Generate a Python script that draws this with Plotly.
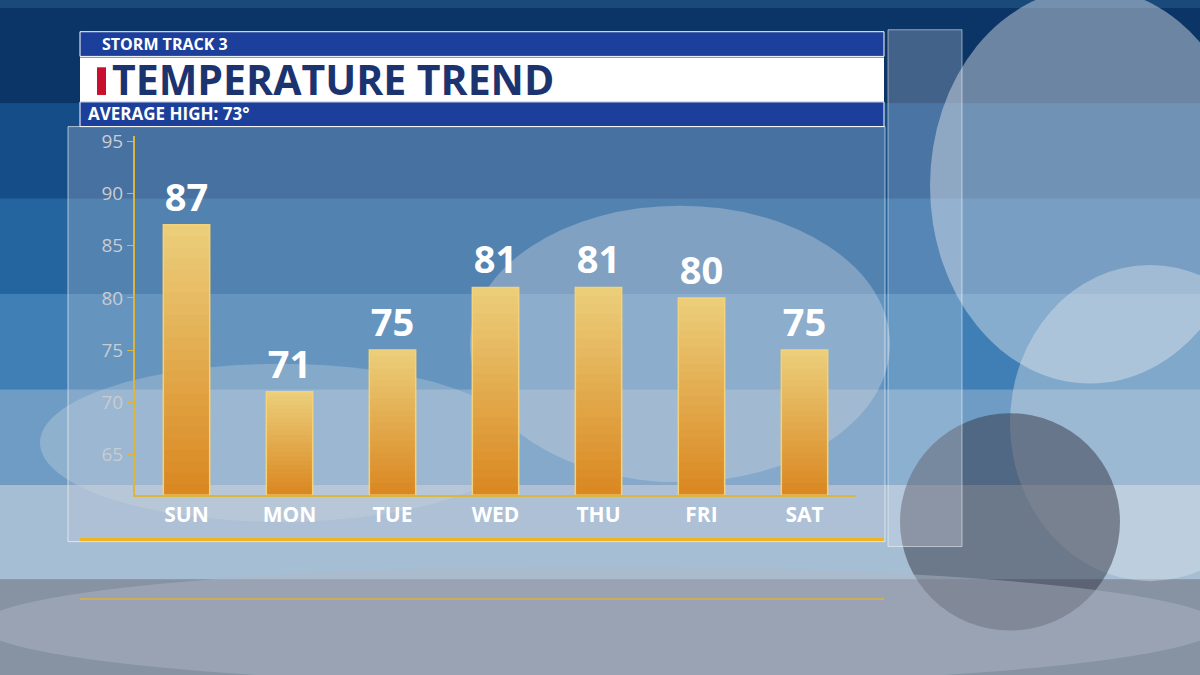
import plotly.graph_objects as go

days = ["SUN", "MON", "TUE", "WED", "THU", "FRI", "SAT"]
highs = [87, 71, 75, 81, 81, 80, 75]
yticks = [65, 70, 75, 80, 85, 90, 95]
AXIS_MIN = 61.1

def px(x): return x / 1200
def py(y): return 1 - y / 675

fig = go.Figure()
N = 24
top_c = (236, 206, 122)
bot_c = (218, 136, 34)
for k in range(N):
    t = k / (N - 1)
    c = tuple(int(bot_c[i] + (top_c[i] - bot_c[i]) * t) for i in range(3))
    h = [(v - AXIS_MIN) / N for v in highs]
    fig.add_trace(go.Bar(x=days, y=[hh * (1.6 if k < N - 1 else 1) for hh in h],
                         base=[AXIS_MIN + (v - AXIS_MIN) * k / N for v in highs],
                         width=0.45, marker=dict(color="rgb(%d,%d,%d)" % c, line_width=0),
                         hoverinfo="skip"))
fig.add_trace(go.Bar(x=days, y=[v - AXIS_MIN for v in highs], base=AXIS_MIN, width=0.45,
                     marker=dict(color="rgba(0,0,0,0)", line=dict(color="#F3D27A", width=1.5)),
                     text=[str(v) for v in highs], textposition="outside",
                     textfont=dict(family="Open Sans", size=38, color="white", weight="bold"),
                     cliponaxis=False))

shapes = []
sky = ["#0b3566", "#154d88", "#2465a0", "#3f7fb5", "#6e9cc4", "#a6bed4", "#8793a3"]
for i, c in enumerate(sky):
    shapes.append(dict(type="rect", xref="paper", yref="paper", x0=0, x1=1,
                       y0=py(675 * (i + 1) / 7), y1=py(675 * i / 7),
                       fillcolor=c, line_width=0, layer="below"))
for (cx, cy, rx, ry, col) in [(1090, 180, 160, 200, "rgba(225,230,238,0.45)"),
                              (1150, 420, 140, 160, "rgba(225,230,238,0.4)"),
                              (680, 340, 210, 140, "rgba(225,228,232,0.35)"),
                              (280, 440, 240, 80, "rgba(220,225,230,0.3)"),
                              (1010, 520, 110, 110, "rgba(50,52,65,0.5)"),
                              (600, 625, 620, 60, "rgba(175,185,200,0.45)")]:
    shapes.append(dict(type="circle", xref="paper", yref="paper",
                       x0=px(cx - rx), x1=px(cx + rx), y0=py(cy + ry), y1=py(cy - ry),
                       fillcolor=col, line_width=0, layer="below"))
shapes.append(dict(type="rect", xref="paper", yref="paper", x0=px(68), x1=px(885),
                   y0=py(540), y1=py(120), fillcolor="rgba(190,200,215,0.3)",
                   line=dict(color="rgba(255,255,255,0.6)", width=1), layer="below"))
shapes.append(dict(type="rect", xref="paper", yref="paper", x0=px(888), x1=px(962),
                   y0=py(545), y1=py(22), fillcolor="rgba(230,235,245,0.25)",
                   line=dict(color="rgba(255,255,255,0.5)", width=1), layer="below"))
shapes.append(dict(type="rect", xref="paper", yref="paper", x0=px(80), x1=px(884),
                   y0=py(49), y1=py(24), fillcolor="#1b3f9a", line=dict(color="white", width=1)))
shapes.append(dict(type="rect", xref="paper", yref="paper", x0=px(80), x1=px(884),
                   y0=py(95), y1=py(50), fillcolor="white", line_width=0))
shapes.append(dict(type="rect", xref="paper", yref="paper", x0=px(97), x1=px(106),
                   y0=py(88), y1=py(60), fillcolor="#c8102e", line_width=0))
shapes.append(dict(type="rect", xref="paper", yref="paper", x0=px(80), x1=px(884),
                   y0=py(120), y1=py(95), fillcolor="#1b3f9a", line=dict(color="white", width=1)))
shapes.append(dict(type="line", xref="paper", yref="paper", x0=px(80), x1=px(884),
                   y0=py(538), y1=py(538), line=dict(color="#f2b320", width=3)))
shapes.append(dict(type="line", xref="paper", yref="paper", x0=px(80), x1=px(884),
                   y0=py(598), y1=py(598), line=dict(color="rgba(242,179,32,0.6)", width=2)))

def a(x, y, text, size, color, weight="bold"):
    return dict(x=px(x), y=py(y), text=text, showarrow=False, xanchor="left", yanchor="middle",
                font=dict(family="Open Sans", size=size, color=color, weight=weight),
                xref="paper", yref="paper")

ann = [a(100, 36, "STORM TRACK 3", 16, "white"),
       a(110, 72, "TEMPERATURE TREND", 41, "#1b3470"),
       a(86, 107, "AVERAGE HIGH: 73°", 17, "white")]

fig.update_layout(
    width=1200, height=675, margin=dict(l=0, r=0, t=0, b=0), autosize=False,
    paper_bgcolor="#1a4a7a", plot_bgcolor="rgba(0,0,0,0)", barmode="overlay",
    shapes=shapes, annotations=ann, showlegend=False,
    xaxis=dict(domain=[px(135), px(856)], range=[-0.5, 6.5], showgrid=False,
               showline=True, linecolor="#d9b640", linewidth=2,
               tickfont=dict(family="Open Sans", size=21, color="white", weight="bold"), ticks=""),
    yaxis=dict(domain=[py(493), py(130)], range=[AXIS_MIN, 95.47], tickvals=yticks,
               showgrid=False, showline=True, linecolor="#d9b640", linewidth=2,
               ticks="outside", tickcolor="#d9b640", ticklen=6,
               tickfont=dict(family="Open Sans", size=19, color="#c9ccd2"), zeroline=False),
)
fig.write_html("out.html", config={"responsive": False, "displayModeBar": False})
with open("out.html") as f:
    html = f.read()
html = html.replace("<head>", "<head><style>body{margin:0;padding:0;overflow:hidden}</style>", 1)
with open("out.html", "w") as f:
    f.write(html)
